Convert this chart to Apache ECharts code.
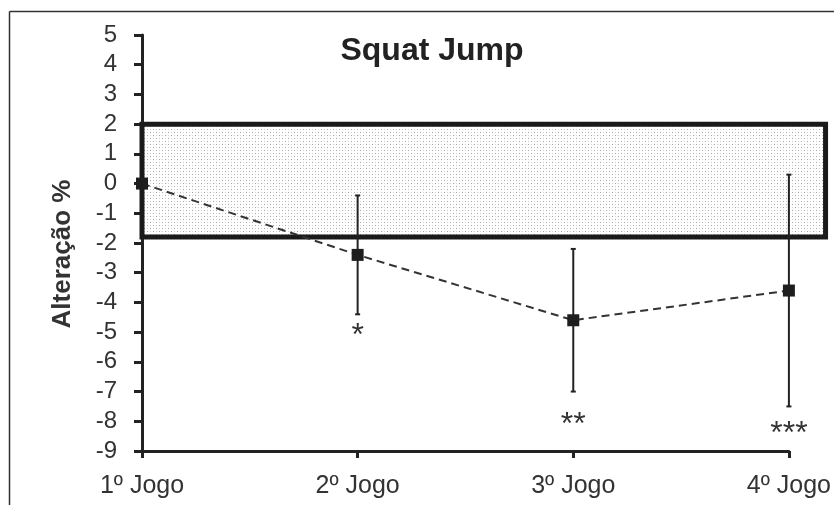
<!DOCTYPE html>
<html>
<head>
<meta charset="utf-8">
<script src="https://cdn.jsdelivr.net/npm/echarts@6/dist/echarts.min.js"></script>
<style>
html,body{margin:0;padding:0;background:#fff;}
#chart{width:834px;height:505px;}
</style>
</head>
<body>
<div id="chart"></div>
<script>
// ---- data ----
const categories = ['1º Jogo', '2º Jogo', '3º Jogo', '4º Jogo'];
const means = [0, -2.4, -4.6, -3.6];
const errHigh = [0, -0.4, -2.2, 0.3];
const errLow = [0, -4.4, -7.0, -7.5];
const significance = ['', '*', '**', '***'];
const significanceY = [null, -4.85, -7.85, -8.15];
const bandLow = -1.8;
const bandHigh = 2;
const bandXEnd = 3.17;
const yMin = -9, yMax = 5;

// ---- dot pattern ----
const pc = document.createElement('canvas');
pc.width = 6; pc.height = 6;
const pctx = pc.getContext('2d');
pctx.fillStyle = '#ffffff';
pctx.fillRect(0, 0, 6, 6);
pctx.fillStyle = '#a5a5a5';
pctx.fillRect(0, 0, 1, 1);
pctx.fillRect(3, 3, 1, 1);
pctx.fillStyle = '#d2d2d2';
pctx.fillRect(3, 0, 1, 1);
pctx.fillRect(0, 3, 1, 1);

const chart = echarts.init(document.getElementById('chart'));
const FONT = '"Liberation Sans", Arial, sans-serif';

const lineData = means.map((v, i) => [i, v]);
const errData = means.map((v, i) => [i, errLow[i], errHigh[i]]);
const sigData = significance.map((s, i) => [i, significanceY[i] === null ? 0 : significanceY[i]]);

chart.setOption({
  animation: false,
  backgroundColor: '#ffffff',
  title: {
    text: 'Squat Jump',
    left: 427, top: 30, textAlign: 'center',
    textStyle: { fontFamily: FONT, fontSize: 32, fontWeight: 'bold', color: '#222' }
  },
  graphic: [
    { type: 'line', shape: { x1: 9.5, y1: 11.5, x2: 834, y2: 11.5 }, style: { stroke: '#333', lineWidth: 1.5 } },
    { type: 'line', shape: { x1: 9.5, y1: 11.5, x2: 9.5, y2: 505 }, style: { stroke: '#333', lineWidth: 1.5 } }
  ],
  grid: { left: 142, right: 44, top: 35, bottom: 54, containLabel: false },
  xAxis: {
    type: 'value', min: 0, max: categories.length - 1, interval: 1,
    splitLine: { show: false },
    axisLine: { onZero: false, lineStyle: { color: '#222', width: 3 } },
    axisTick: { show: true, length: 7, lineStyle: { color: '#222', width: 3 } },
    axisLabel: {
      margin: 23, fontFamily: FONT, fontSize: 25, color: '#333',
      formatter: v => categories[v] || ''
    }
  },
  yAxis: {
    type: 'value', min: yMin, max: yMax, interval: 1,
    name: 'Alteração %', nameLocation: 'middle', nameGap: 66, nameRotate: 90,
    nameTextStyle: { fontFamily: FONT, fontSize: 26, fontWeight: 'bold', color: '#333', padding: [0, 22, 0, 0] },
    splitLine: { show: false },
    axisLine: { show: true, lineStyle: { color: '#222', width: 3 } },
    axisTick: { show: true, length: 8, lineStyle: { color: '#222', width: 3 } },
    axisLabel: { margin: 25, fontFamily: FONT, fontSize: 24, color: '#333' }
  },
  series: [
    {
      type: 'custom', z: 1, clip: false,
      data: [[0, bandXEnd, bandLow, bandHigh]],
      renderItem: function (params, api) {
        const p1 = api.coord([api.value(0), api.value(3)]);
        const p2 = api.coord([api.value(1), api.value(2)]);
        return {
          type: 'rect',
          shape: { x: p1[0], y: p1[1], width: p2[0] - p1[0], height: p2[1] - p1[1] },
          style: { fill: { image: pc, repeat: 'repeat' }, stroke: '#1a1a1a', lineWidth: 5 }
        };
      }
    },
    {
      type: 'custom', z: 3, clip: false,
      data: errData,
      renderItem: function (params, api) {
        const x = api.value(0);
        const lo = api.coord([x, api.value(1)]);
        const hi = api.coord([x, api.value(2)]);
        if (Math.abs(lo[1] - hi[1]) < 0.5) return { type: 'group', children: [] };
        return {
          type: 'group',
          children: [
            { type: 'line', shape: { x1: lo[0], y1: lo[1], x2: hi[0], y2: hi[1] }, style: { stroke: '#222', lineWidth: 2 } },
            { type: 'line', shape: { x1: lo[0] - 2.5, y1: lo[1], x2: lo[0] + 2.5, y2: lo[1] }, style: { stroke: '#222', lineWidth: 2 } },
            { type: 'line', shape: { x1: hi[0] - 2.5, y1: hi[1], x2: hi[0] + 2.5, y2: hi[1] }, style: { stroke: '#222', lineWidth: 2 } }
          ]
        };
      }
    },
    {
      type: 'custom', z: 3, clip: false,
      data: sigData,
      renderItem: function (params, api) {
        const label = significance[params.dataIndex];
        if (!label) return { type: 'group', children: [] };
        const p = api.coord([api.value(0), api.value(1)]);
        return {
          type: 'text',
          style: { text: label, x: p[0], y: p[1] - 8, align: 'center', verticalAlign: 'top',
                   font: '32px ' + FONT, fill: '#333' }
        };
      }
    },
    {
      type: 'line', z: 4,
      data: lineData,
      symbol: 'rect', symbolSize: 12,
      itemStyle: { color: '#1e1e1e' },
      lineStyle: { color: '#333', width: 2, type: [8, 5] }
    }
  ]
});
</script>
</body>
</html>
